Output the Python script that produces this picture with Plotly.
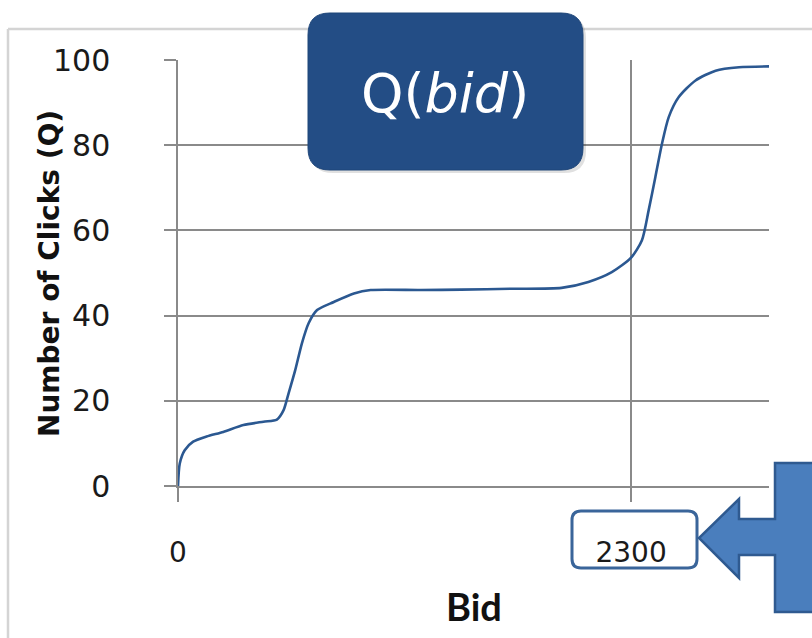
import plotly.graph_objects as go

# ---- data ----
bid = [0, 9, 34, 77, 145, 230, 332, 434, 502, 536, 561, 595, 629, 663, 706, 791,
       893, 978, 1233, 1437, 1693, 1947, 2083, 2202, 2300, 2355, 2389, 2423, 2457,
       2491, 2542, 2627, 2729, 2848, 3000]
clicks = [0, 5.3, 8.4, 10.4, 11.6, 12.7, 14.3, 15.1, 15.6, 17.8, 21.7, 27.2, 33.5,
          38.2, 41.3, 43.2, 45.2, 46.0, 46.0, 46.1, 46.3, 46.5, 47.9, 50.2, 53.6,
          57.7, 64.7, 72.5, 80.4, 86.6, 91.3, 95.2, 97.5, 98.3, 98.5]
x_tickvals = [0, 2300]
x_ticktext = ["0", "2300"]
y_tickvals = [0, 20, 40, 60, 80, 100]
x_title = "Bid"
y_title = "Number of Clicks (Q)"
badge_text = "Q(<i>bid</i>)"

W, H = 812, 638
ML, MR, MT, MB = 178, 43, 60, 152
PW, PH = W - ML - MR, H - MT - MB

def px(x):
    return (x - ML) / PW

def py(y):
    return (H - MB - y) / PH

def rrect(x0, y0, x1, y1, r):
    pts = []
    pts.append(f"M{px(x0 + r)},{py(y0)}")
    pts.append(f"L{px(x1 - r)},{py(y0)}")
    pts.append(f"Q{px(x1)},{py(y0)} {px(x1)},{py(y0 + r)}")
    pts.append(f"L{px(x1)},{py(y1 - r)}")
    pts.append(f"Q{px(x1)},{py(y1)} {px(x1 - r)},{py(y1)}")
    pts.append(f"L{px(x0 + r)},{py(y1)}")
    pts.append(f"Q{px(x0)},{py(y1)} {px(x0)},{py(y1 - r)}")
    pts.append(f"L{px(x0)},{py(y0 + r)}")
    pts.append(f"Q{px(x0)},{py(y0)} {px(x0 + r)},{py(y0)}")
    pts.append("Z")
    return " ".join(pts)

def poly(points):
    return "M" + " L".join(f"{px(a)},{py(b)}" for a, b in points) + " Z"

fig = go.Figure()
fig.add_trace(go.Scatter(
    x=bid, y=clicks, mode="lines",
    line=dict(color="#2b5891", width=2.6, shape="spline", smoothing=0.7),
    hoverinfo="skip", showlegend=False,
))

grid = "#8a8a8a"
fig.update_xaxes(
    range=[0, 3000], tickmode="array", tickvals=x_tickvals, ticktext=x_ticktext,
    showgrid=True, gridcolor=grid, gridwidth=1.5,
    ticks="outside", ticklen=14, tickwidth=1.5, tickcolor=grid,
    zeroline=False, showline=True, linecolor=grid, linewidth=1.5,
    tickfont=dict(family="DejaVu Sans", size=28, color="#1a1a1a"),
    ticklabelstandoff=27,
)
fig.update_yaxes(
    range=[0, 100], tickmode="array", tickvals=y_tickvals,
    showgrid=True, gridcolor=grid, gridwidth=1.5,
    ticks="outside", ticklen=12, tickwidth=1.5, tickcolor=grid,
    zeroline=False, showline=True, linecolor=grid, linewidth=1.5,
    tickfont=dict(family="DejaVu Sans", size=30, color="#1a1a1a"),
    ticklabelstandoff=48,
)

shapes = [
    dict(type="line", xref="paper", yref="paper", x0=px(8), y0=py(29), x1=px(820), y1=py(29),
         line=dict(color="#d4d4d4", width=2.5), layer="below"),
    dict(type="line", xref="paper", yref="paper", x0=px(8), y0=py(29), x1=px(8), y1=py(645),
         line=dict(color="#d4d4d4", width=2.5), layer="below"),
    dict(type="path", xref="paper", yref="paper", path=rrect(311, 16, 586, 173, 22),
         fillcolor="rgba(0,0,0,0.12)", line=dict(width=0)),
    dict(type="path", xref="paper", yref="paper", path=rrect(308, 13, 583, 170, 22),
         fillcolor="#234d85", line=dict(color="#1f4679", width=1)),
    dict(type="path", xref="paper", yref="paper", path=rrect(572, 511, 697, 568, 9),
         fillcolor="rgba(255,255,255,0)", line=dict(color="#3a659a", width=3)),
    dict(type="path", xref="paper", yref="paper",
         path=poly([(775, 463), (830, 463), (830, 612), (775, 612), (775, 555),
                    (739, 555), (739, 578), (699, 538), (739, 499), (739, 519),
                    (775, 519)]),
         fillcolor="#4a7ebd", line=dict(color="#2f5a90", width=2.5)),
]

annotations = [
    dict(text=badge_text, xref="paper", yref="paper", x=px(445), y=py(93),
         showarrow=False, xanchor="center", yanchor="middle",
         font=dict(family="DejaVu Sans", size=54, color="white")),
    dict(text=f"<b>{y_title}</b>", xref="paper", yref="paper", x=px(49), y=py(274),
         showarrow=False, textangle=-90, xanchor="center", yanchor="middle",
         font=dict(family="DejaVu Sans", size=28, color="#111111")),
    dict(text=f"<b>{x_title}</b>", xref="paper", yref="paper", x=px(474), y=py(606),
         showarrow=False, xanchor="center", yanchor="middle",
         font=dict(family="Liberation Sans Narrow, Lato", size=38, color="#111111")),
]

fig.update_layout(
    width=W, height=H,
    margin=dict(l=ML, r=MR, t=MT, b=MB, autoexpand=False),
    paper_bgcolor="white", plot_bgcolor="white",
    shapes=shapes, annotations=annotations,
    showlegend=False,
)

fig.write_html("out.html")
